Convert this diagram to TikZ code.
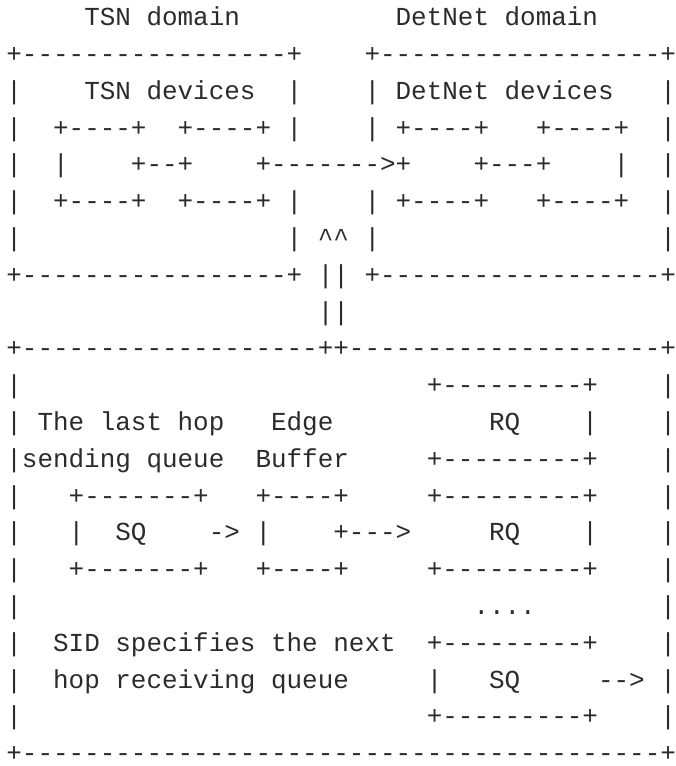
\documentclass[tikz,border=0pt]{standalone}
\usepackage{fontspec}
\setmonofont{Liberation Mono}[Ligatures=NoCommon]
\definecolor{ink}{HTML}{2B2B2B}
\ExplSyntaxOn
\NewDocumentCommand\rpt{mm}{\prg_replicate:nn{#1}{#2}}
\ExplSyntaxOff
% row, column, text  (one character cell = 15.57px, one row = 36.8px)
\newcommand\putseg[3]{\node[txt] (s#1-#2) at ({6.2+15.57*#2},{740.3-36.8*(#1-1)}) {#3};}
\begin{document}
\begin{tikzpicture}[x=1pt,y=1pt,
  txt/.style={font=\ttfamily\fontsize{25.95}{30}\selectfont,anchor=base west,inner sep=0pt,text=ink}]
\fill[white] (0,0) rectangle (676,766);
\useasboundingbox (0,0) rectangle (676,766);
% row 1
\putseg{1}{5}{TSN domain}
\putseg{1}{25}{DetNet domain}
% row 2
\putseg{2}{0}{+\rpt{17}{-}+}
\putseg{2}{23}{+\rpt{18}{-}+}
% row 3
\putseg{3}{0}{|}
\putseg{3}{5}{TSN devices}
\putseg{3}{18}{|}
\putseg{3}{23}{|}
\putseg{3}{25}{DetNet devices}
\putseg{3}{42}{|}
% row 4
\putseg{4}{0}{|}
\putseg{4}{3}{+----+}
\putseg{4}{11}{+----+}
\putseg{4}{18}{|}
\putseg{4}{23}{|}
\putseg{4}{25}{+----+}
\putseg{4}{34}{+----+}
\putseg{4}{42}{|}
% row 5
\putseg{5}{0}{|}
\putseg{5}{3}{|}
\putseg{5}{8}{+--+}
\putseg{5}{16}{+\rpt{7}{-}>+}
\putseg{5}{30}{+---+}
\putseg{5}{39}{|}
\putseg{5}{42}{|}
% row 6
\putseg{6}{0}{|}
\putseg{6}{3}{+----+}
\putseg{6}{11}{+----+}
\putseg{6}{18}{|}
\putseg{6}{23}{|}
\putseg{6}{25}{+----+}
\putseg{6}{34}{+----+}
\putseg{6}{42}{|}
% row 7
\putseg{7}{0}{|}
\putseg{7}{18}{|}
\putseg{7}{20}{\char94\char94}
\putseg{7}{23}{|}
\putseg{7}{42}{|}
% row 8
\putseg{8}{0}{+\rpt{17}{-}+}
\putseg{8}{20}{||}
\putseg{8}{23}{+\rpt{18}{-}+}
% row 9
\putseg{9}{20}{||}
% row 10
\putseg{10}{0}{+\rpt{19}{-}++\rpt{20}{-}+}
% row 11
\putseg{11}{0}{|}
\putseg{11}{27}{+\rpt{9}{-}+}
\putseg{11}{42}{|}
% row 12
\putseg{12}{0}{|}
\putseg{12}{2}{The last hop}
\putseg{12}{17}{Edge}
\putseg{12}{31}{RQ}
\putseg{12}{37}{|}
\putseg{12}{42}{|}
% row 13
\putseg{13}{0}{|sending queue}
\putseg{13}{16}{Buffer}
\putseg{13}{27}{+\rpt{9}{-}+}
\putseg{13}{42}{|}
% row 14
\putseg{14}{0}{|}
\putseg{14}{4}{+\rpt{7}{-}+}
\putseg{14}{16}{+----+}
\putseg{14}{27}{+\rpt{9}{-}+}
\putseg{14}{42}{|}
% row 15
\putseg{15}{0}{|}
\putseg{15}{4}{|}
\putseg{15}{7}{SQ}
\putseg{15}{13}{->}
\putseg{15}{16}{|}
\putseg{15}{21}{+--->}
\putseg{15}{31}{RQ}
\putseg{15}{37}{|}
\putseg{15}{42}{|}
% row 16
\putseg{16}{0}{|}
\putseg{16}{4}{+\rpt{7}{-}+}
\putseg{16}{16}{+----+}
\putseg{16}{27}{+\rpt{9}{-}+}
\putseg{16}{42}{|}
% row 17
\putseg{17}{0}{|}
\putseg{17}{30}{....}
\putseg{17}{42}{|}
% row 18
\putseg{18}{0}{|}
\putseg{18}{3}{SID specifies the next}
\putseg{18}{27}{+\rpt{9}{-}+}
\putseg{18}{42}{|}
% row 19
\putseg{19}{0}{|}
\putseg{19}{3}{hop receiving queue}
\putseg{19}{27}{|}
\putseg{19}{31}{SQ}
\putseg{19}{38}{-->}
\putseg{19}{42}{|}
% row 20
\putseg{20}{0}{|}
\putseg{20}{27}{+\rpt{9}{-}+}
\putseg{20}{42}{|}
% row 21
\putseg{21}{0}{+\rpt{41}{-}+}
\end{tikzpicture}
\end{document}
